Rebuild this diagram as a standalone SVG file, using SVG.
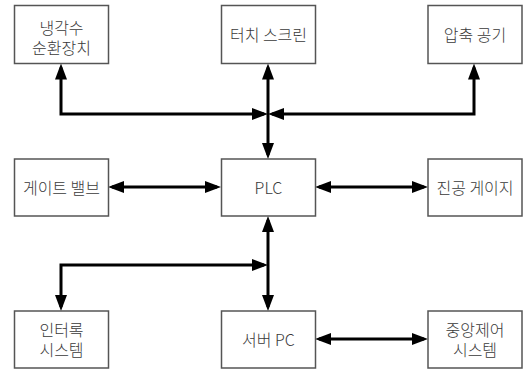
<svg xmlns="http://www.w3.org/2000/svg" width="527" height="369" viewBox="0 0 527 369">
<defs>
<style>
.box{fill:#fff;stroke:#555;stroke-width:1.5}
.t{font-family:"Noto Sans CJK KR","Noto Sans",sans-serif;font-size:16px;font-weight:300;fill:#3a3a3a;text-anchor:middle;dominant-baseline:central}
.c{fill:none;stroke:#000;stroke-width:3;marker-start:url(#ah);marker-end:url(#ah)}
</style>
<marker id="ah" markerUnits="userSpaceOnUse" markerWidth="17" markerHeight="12" viewBox="0 0 17 12" refX="12" refY="6" orient="auto-start-reverse">
<path d="M0,0 L16,6 L0,12 z" fill="#000"/>
</marker>
</defs>
<rect width="527" height="369" fill="#fff"/>
<g id="connectors">
<path class="c" d="M264,114 H61 V67.5"/>
<path class="c" d="M272,114 H474 V67.5"/>
<path class="c" d="M268,67.5 V155"/>
<path class="c" d="M112,187 H217"/>
<path class="c" d="M319,187 H424"/>
<path class="c" d="M268,220 V307"/>
<path class="c" d="M264,265 H61 V307"/>
<path class="c" d="M319,339 H424"/>
</g>
<g id="n1"><rect class="box" x="14.5" y="5.5" width="94" height="58"/><text class="t" x="61.5" y="27">냉각수</text><text class="t" x="61.5" y="47">순환장치</text></g>
<g id="n2"><rect class="box" x="221.5" y="5.5" width="94" height="58"/><text class="t" x="268.5" y="34">터치 스크린</text></g>
<g id="n3"><rect class="box" x="428" y="5.5" width="94" height="58"/><text class="t" x="475" y="34">압축 공기</text></g>
<g id="n4"><rect class="box" x="14.5" y="159" width="94" height="57"/><text class="t" x="61.5" y="187">게이트 밸브</text></g>
<g id="n5"><rect class="box" x="221.5" y="159" width="94" height="57"/><text class="t" x="268.5" y="187">PLC</text></g>
<g id="n6"><rect class="box" x="428" y="159" width="94" height="57"/><text class="t" x="475" y="187">진공 게이지</text></g>
<g id="n7"><rect class="box" x="14.5" y="311" width="94" height="57"/><text class="t" x="61.5" y="329">인터록</text><text class="t" x="61.5" y="349">시스템</text></g>
<g id="n8"><rect class="box" x="221.5" y="311" width="94" height="57"/><text class="t" x="268.5" y="339">서버 PC</text></g>
<g id="n9"><rect class="box" x="428" y="311" width="94" height="57"/><text class="t" x="475" y="329">중앙제어</text><text class="t" x="475" y="349">시스템</text></g>
</svg>
